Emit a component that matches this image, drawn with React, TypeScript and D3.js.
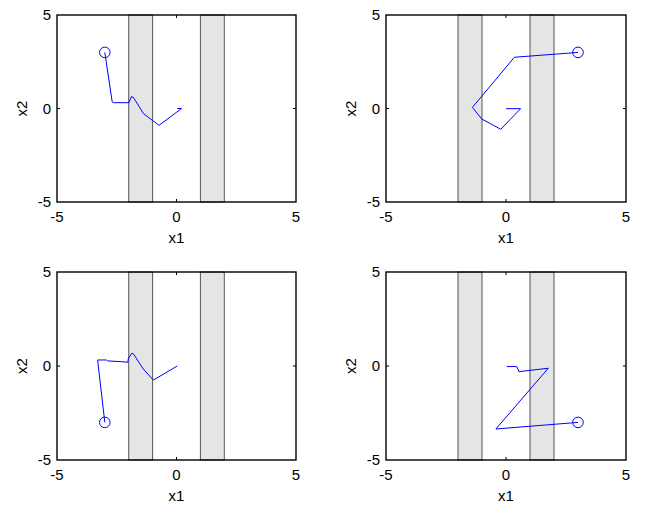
import * as d3 from 'd3';

// axis limits and ticks shared by all four panels
const domain: [number, number] = [-5, 5];
const tickValues = [-5, 0, 5];
const bands: [number, number][] = [[-2, -1], [1, 2]];

// trajectories, first point is the start (circle marker)
const pathTopLeft: [number, number][] = [
    [-3, 3], [-2.69, 0.35], [-2.62, 0.31], [-1.99, 0.31], [-1.89, 0.63], [-1.81, 0.6],
    [-1.56, 0.1], [-1.39, -0.26], [-1.18, -0.47], [-0.94, -0.7], [-0.73, -0.9], [0.21, 0.0], [0.03, 0.0],
];
const pathTopRight: [number, number][] = [
    [3, 3], [0.35, 2.74], [-1.4, 0.06], [-1.01, -0.56], [-0.22, -1.11], [0.61, -0.01], [0, -0.01],
];
const pathBottomLeft: [number, number][] = [
    [-3, -3], [-3.3, 0.32], [-2.92, 0.32], [-2.88, 0.27], [-2.29, 0.23], [-2.04, 0.2], [-2.01, 0.41],
    [-1.87, 0.68], [-1.8, 0.64], [-1.39, -0.16], [-0.97, -0.75], [0.03, 0],
];
const pathBottomRight: [number, number][] = [
    [3, -3], [-0.42, -3.35], [1.76, -0.12], [0.54, -0.3], [0.45, -0.03], [0.03, -0.03],
];

const xLabel = 'x1';
const yLabel = 'x2';

const panels = [
    { path: pathTopLeft, left: 57, right: 296, top: 15, bottom: 202 },
    { path: pathTopRight, left: 386, right: 626, top: 15, bottom: 202 },
    { path: pathBottomLeft, left: 57, right: 296, top: 272, bottom: 460 },
    { path: pathBottomRight, left: 386, right: 626, top: 272, bottom: 460 },
];

const font = '"Liberation Sans", Arial, sans-serif';

const Panel = ({ path, left, right, top, bottom }: typeof panels[number]) => {
    const x = d3.scaleLinear().domain(domain).range([left, right]);
    const y = d3.scaleLinear().domain(domain).range([bottom, top]);
    const line = d3.line<[number, number]>().x(d => x(d[0])).y(d => y(d[1]));
    const midY = (top + bottom) / 2;
    const midX = (left + right) / 2;

    return (
        <g>
            {/* shaded bands */}
            {bands.map(([a, b], i) => (
                <rect key={i} x={x(a)} y={top} width={x(b) - x(a)} height={bottom - top}
                    fill="#e5e5e5" stroke="#555" strokeWidth={1} />
            ))}
            {/* trajectory */}
            <path d={line(path) ?? ''} fill="none" stroke="#0000ff" strokeWidth={1} />
            <circle cx={x(path[0][0])} cy={y(path[0][1])} r={5.3} fill="none" stroke="#0000ff" strokeWidth={1} />
            {/* frame */}
            <rect x={left} y={top} width={right - left} height={bottom - top} fill="none" stroke="#000" strokeWidth={1.4} />
            {/* ticks at zero, inward on all sides */}
            <line x1={x(0)} x2={x(0)} y1={bottom} y2={bottom - 3} stroke="#000" />
            <line x1={x(0)} x2={x(0)} y1={top} y2={top + 3} stroke="#000" />
            <line x1={left} x2={left + 3} y1={y(0)} y2={y(0)} stroke="#000" />
            <line x1={right} x2={right - 3} y1={y(0)} y2={y(0)} stroke="#000" />
            {/* tick labels */}
            {tickValues.map(t => (
                <text key={'x' + t} x={x(t)} y={bottom + 20} textAnchor="middle" fontSize={15} fontFamily={font} fill="#000">{t}</text>
            ))}
            {tickValues.map(t => (
                <text key={'y' + t} x={left - 6} y={y(t) + 5.3} textAnchor="end" fontSize={15} fontFamily={font} fill="#000">{t}</text>
            ))}
            {/* axis labels */}
            <text x={midX} y={bottom + 41} textAnchor="middle" fontSize={15} fontFamily={font} fill="#000">{xLabel}</text>
            <text transform={`translate(${left - 30},${midY}) rotate(-90)`} textAnchor="middle" fontSize={15} fontFamily={font} fill="#000">{yLabel}</text>
        </g>
    );
};

export default function App() {
    return (
        <svg width={648} height={505} style={{ position: 'absolute', left: 0, top: 0, background: '#fff' }}>
            {panels.map((p, i) => <Panel key={i} {...p} />)}
        </svg>
    );
}
